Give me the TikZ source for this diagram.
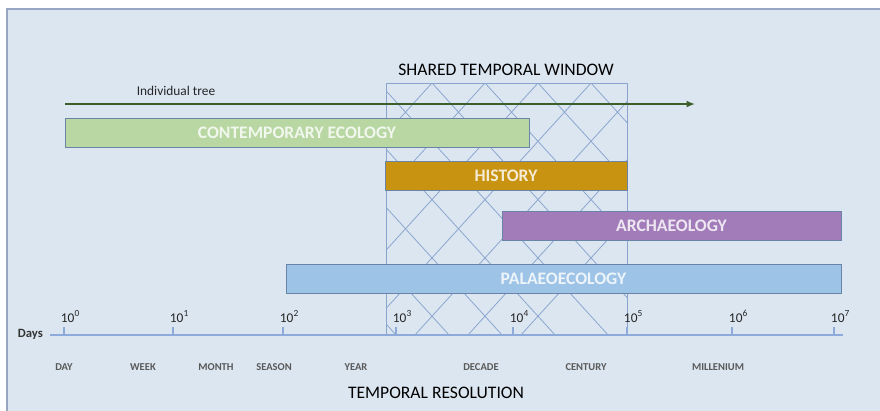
\documentclass[tikz,border=0pt]{standalone}
\usepackage{fontspec}
\setmainfont{Carlito}
\usetikzlibrary{arrows.meta}

\begin{document}
\begin{tikzpicture}[x=0.025cm,y=-0.025cm]
\definecolor{panelcol}{HTML}{DCE6F1}
\definecolor{paneledge}{HTML}{98A6C4}
\definecolor{axiscol}{HTML}{8EAADB}
\definecolor{hatchcol}{HTML}{8AA4CE}
\definecolor{bandedge}{HTML}{6A84A8}
\definecolor{treecol}{HTML}{3B5E2B}
\definecolor{ecolcol}{HTML}{B8D7A3}
\definecolor{histcol}{HTML}{C99312}
\definecolor{archcol}{HTML}{A27CB9}
\definecolor{palaeocol}{HTML}{9DC3E6}
\tikzstyle{myarr}=[-{Latex[length=6,width=5]}]
\tikzset{
band/.style={draw=bandedge,line width=0.7,inner sep=0,minimum height=0.725cm,
  font=\bfseries\fontsize{12.5}{14}\selectfont,text=white,text opacity=0.82},
hatch/.style={hatchcol,line width=0.55},
axis/.style={axiscol,line width=0.8},
tick/.style={anchor=base west,font=\fontsize{9.5}{11}\selectfont,text=black!85},
unit/.style={anchor=base,font=\bfseries\fontsize{7.5}{9}\selectfont,text=black!65},
}
\def\wl{386}   % window left
\def\wr{627}   % window right
\def\wt{83}    % window top
\def\ay{335}   % axis height
\def\hs{53}    % hatch spacing

\useasboundingbox (0,0) rectangle (880,410);

% PANEL
\fill[panelcol] (7,9) rectangle (882,412);
\draw[paneledge,line width=1.2] (7,412) -- (7,9) -- (882,9);

% SHARED WINDOW
\coordinate (W1) at (\wl,\wt);
\coordinate (W2) at (\wr,\ay);
\begin{scope}
\clip (W1) rectangle (W2);
\foreach \k in {-6,...,6}{
  \draw[hatch] ({432+\hs*\k},\wt) -- ++(300,330);
  \draw[hatch] ({432+\hs*\k},\wt) -- ++(-300,330);
}
\end{scope}
\draw[hatchcol,line width=0.6] (\wl,\ay) -- (W1) -- (\wr,\wt) -- (W2);
\node[anchor=base,font=\fontsize{12.5}{14}\selectfont] (window) at (506,75) {SHARED TEMPORAL WINDOW};

% INDIVIDUAL TREE
\coordinate (T0) at (65,104);
\coordinate (T1) at (695,104);
\draw[treecol,line width=2,myarr] (T0) -- (T1);
\node[anchor=base,font=\fontsize{9.5}{11}\selectfont,text=black!85] (tree) at (176,95) {Individual tree};

% BANDS
\foreach \nm/\xa/\xb/\yc/\col/\txt in {
  ecol/65/529/132.5/ecolcol/CONTEMPORARY ECOLOGY,
  hist/385/627/175.5/histcol/HISTORY,
  arch/502/841/225.5/archcol/ARCHAEOLOGY,
  palaeo/286/841/278.5/palaeocol/PALAEOECOLOGY}{
  \pgfmathsetmacro\w{(\xb-\xa)*0.025}
  \node[band,fill=\col,minimum width=\w cm] (\nm) at ({(\xa+\xb)/2},\yc) {\txt};
}

% AXIS
\coordinate (A0) at (50,\ay);
\coordinate (A1) at (843,\ay);
\draw[axis] (A0) -- (A1);
\foreach \x [count=\e from 0] in {64,173,283,396,513,627,732,834}{
  \draw[axis] (\x,\ay) -- (\x,327);
  \node[tick] (t\e) at ({\x-8},322) {10\textsuperscript{\e}};
}
\node[anchor=base west,font=\bfseries\fontsize{9}{10}\selectfont,text=black!80] (days) at (13,337) {Days};
\foreach \x/\lab in {64/DAY,143/WEEK,216/MONTH,274/SEASON,356/YEAR,
  481/DECADE,586/CENTURY,718/MILLENIUM}{
  \node[unit] (\lab) at (\x,370) {\lab};
}
\node[anchor=base,font=\fontsize{12.5}{14}\selectfont] (resol) at (436,398) {TEMPORAL RESOLUTION};

\end{tikzpicture}
\end{document}
